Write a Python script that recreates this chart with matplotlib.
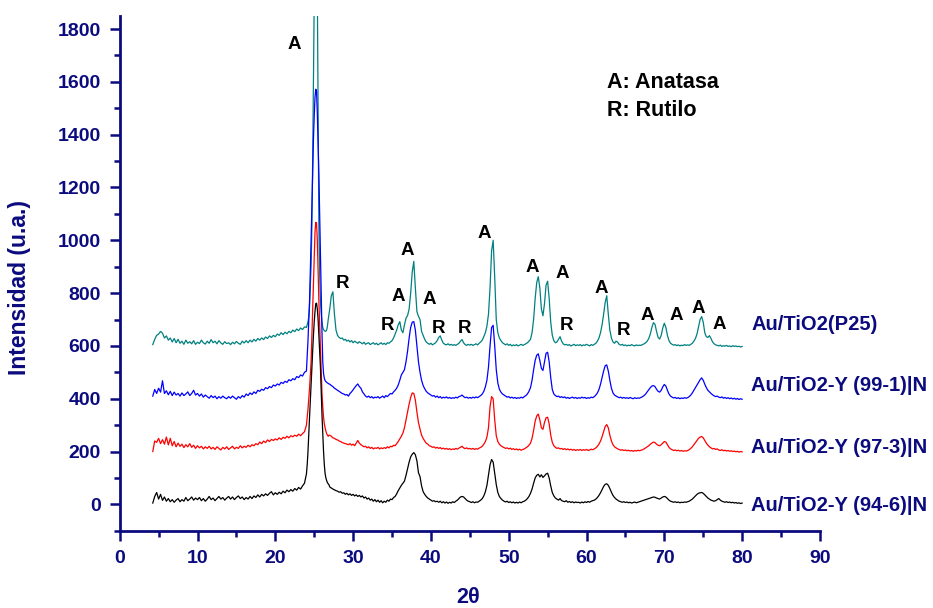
import numpy as np
import matplotlib
matplotlib.use("Agg")
import matplotlib.pyplot as plt
from matplotlib.ticker import MultipleLocator

plt.rcParams['font.family'] = ['Liberation Sans', 'DejaVu Sans']

# ---------------- data (2theta grid and intensities) ----------------
two_theta = np.concatenate([
    np.round(np.arange(4.25, 24.0 + 1e-9, 0.25), 2),   # 80 points
    np.round(np.arange(24.1, 26.9 + 1e-9, 0.1), 2),    # 29 points
    np.round(np.arange(27.0, 80.0 + 1e-9, 0.2), 2),    # 266 points
])

p25 = [
    605, 625, 640, 645, 655, 648, 630, 638, 622, 630,
    615, 628, 612, 625, 610, 618, 606, 622, 610, 616,
    608, 620, 606, 614, 609, 622, 612, 607, 618, 610,
    624, 612, 618, 608, 620, 611, 606, 616, 609, 612,
    605, 614, 608, 617, 610, 606, 618, 611, 620, 612,
    622, 615, 625, 618, 628, 622, 630, 624, 634, 628,
    638, 632, 640, 635, 645, 640, 650, 643, 652, 646,
    655, 650, 660, 654, 664, 658, 668, 662, 672, 670,
    # 24.1 - 26.9
    680, 692, 710, 750, 820, 900, 1050, 1300, 1600, 1900,
    2300, 2550, 2450, 1950, 1500, 1050, 870, 770, 720, 690,
    670, 662, 658, 655, 656, 660, 675, 700, 720,
    # 27.0 - 80.0
    740, 790, 805, 720, 660, 640, 632, 628, 630, 622,
    625, 618, 622, 615, 620, 612, 618, 614, 610, 616,
    612, 608, 614, 606, 610, 612, 605, 609, 612, 606,
    610, 604, 608, 612, 606, 610, 605, 612, 610, 615,
    620, 630, 645, 660, 680, 692, 660, 650, 680, 705,
    715, 740, 800, 880, 920, 820, 730, 712, 700, 655,
    640, 625, 615, 610, 606, 610, 604, 608, 612, 620,
    632, 638, 622, 610, 606, 604, 608, 603, 606, 602,
    605, 602, 606, 610, 618, 624, 612, 605, 602, 606,
    603, 606, 602, 605, 608, 604, 610, 615, 622, 635,
    650, 675, 720, 820, 960, 1000, 860, 700, 650, 630,
    620, 612, 608, 604, 608, 602, 606, 600, 604, 601,
    605, 600, 603, 606, 602, 605, 608, 612, 618, 625,
    650, 700, 780, 840, 862, 820, 740, 714, 760, 830,
    845, 780, 690, 640, 620, 612, 615, 625, 635, 618,
    608, 604, 606, 602, 605, 600, 603, 606, 601, 604,
    602, 605, 600, 604, 602, 606, 603, 600, 605, 602,
    606, 610, 618, 630, 650, 680, 720, 765, 790, 720,
    660, 630, 615, 610, 618, 614, 606, 603, 606, 601,
    604, 600, 603, 601, 605, 602, 600, 604, 601, 603,
    602, 605, 608, 612, 618, 628, 645, 670, 688, 682,
    655, 632, 626, 640, 668, 686, 670, 640, 620, 610,
    606, 603, 605, 601, 604, 600, 603, 601, 605, 602,
    604, 602, 606, 610, 618, 628, 645, 672, 700, 711,
    690, 650, 635, 632, 639, 628, 615, 608, 604, 602,
    600, 603, 598, 601, 599, 602, 598, 600, 597, 601,
    598, 600, 597, 599, 596, 598,
]

y99_1 = [
    410, 435, 420, 440, 425, 468, 420, 430, 415, 428,
    412, 425, 414, 420, 410, 422, 412, 418, 426, 412,
    420, 432, 414, 420, 410, 418, 406, 414, 408, 402,
    412, 404, 410, 400, 408, 402, 410, 404, 400, 408,
    402, 410, 404, 398, 408, 402, 412, 406, 418, 412,
    422, 416, 426, 420, 432, 428, 436, 432, 442, 438,
    446, 442, 452, 448, 456, 452, 462, 458, 466, 462,
    472, 468, 476, 472, 484, 480, 490, 486, 500, 505,
    # 24.1 - 26.9
    560, 620, 700, 770, 880, 1000, 1120, 1250, 1380, 1470,
    1540, 1572, 1565, 1480, 1370, 1250, 1100, 950, 800, 650,
    540, 495, 478, 469, 465, 462, 460, 458, 456,
    # 27.0 - 80.0
    455, 450, 446, 440, 436, 432, 428, 424, 420, 418,
    414, 416, 410, 420, 426, 434, 442, 450, 456, 446,
    440, 426, 418, 410, 406, 410, 404, 408, 402, 406,
    404, 408, 402, 406, 410, 404, 412, 408, 414, 420,
    418, 426, 432, 440, 452, 470, 490, 500, 510, 540,
    580, 630, 670, 690, 692, 660, 600, 540, 500, 470,
    450, 438, 428, 422, 418, 414, 410, 412, 406, 410,
    404, 408, 402, 406, 403, 407, 402, 405, 401, 404,
    402, 406, 403, 408, 410, 414, 408, 404, 406, 402,
    405, 402, 406, 403, 407, 404, 408, 412, 418, 428,
    445, 470, 520, 600, 670, 678, 600, 510, 460, 436,
    425, 418, 414, 410, 406, 408, 403, 406, 402, 405,
    401, 404, 402, 406, 403, 408, 412, 418, 428, 442,
    470, 510, 545, 565, 570, 545, 515, 507, 540, 572,
    576, 540, 480, 435, 418, 412, 408, 410, 405, 408,
    404, 407, 402, 405, 401, 404, 406, 402, 405, 401,
    404, 402, 406, 403, 405, 401, 404, 402, 406, 404,
    408, 414, 422, 435, 455, 480, 505, 525, 528, 505,
    470, 440, 422, 414, 410, 407, 404, 406, 402, 405,
    402, 404, 401, 405, 402, 400, 404, 401, 403, 402,
    405, 408, 412, 418, 426, 434, 442, 448, 450, 446,
    436, 428, 425, 432, 445, 454, 448, 432, 418, 410,
    406, 403, 405, 401, 404, 400, 403, 401, 404, 402,
    404, 408, 414, 422, 432, 442, 452, 462, 472, 479,
    470, 455, 442, 432, 426, 420, 415, 411, 408, 410,
    406, 404, 407, 402, 405, 401, 404, 400, 403, 399,
    402, 398, 401, 397, 400, 398,
]

y97_3 = [
    200, 240, 235, 250, 230, 245, 228, 255, 225, 250,
    222, 238, 218, 232, 220, 228, 215, 226, 218, 230,
    216, 224, 212, 222, 214, 220, 210, 218, 212, 220,
    210, 216, 208, 218, 212, 206, 216, 210, 218, 208,
    214, 220, 210, 216, 212, 222, 214, 220, 216, 224,
    218, 226, 222, 230, 226, 236, 230, 240, 234, 244,
    238, 246, 242, 248, 244, 252, 246, 254, 250, 258,
    252, 260, 256, 262, 258, 266, 260, 268, 275, 300,
    # 24.1 - 26.9
    330, 360, 400, 440, 490, 540, 640, 740, 850, 950,
    1030, 1068, 1065, 1000, 880, 770, 680, 580, 500, 420,
    370, 330, 305, 290, 278, 268, 262, 258, 262,
    # 27.0 - 80.0
    262, 258, 252, 250, 246, 244, 240, 238, 234, 232,
    230, 228, 226, 230, 224, 228, 222, 232, 242, 232,
    226, 222, 218, 220, 214, 218, 212, 216, 210, 214,
    212, 216, 210, 214, 211, 215, 212, 218, 214, 220,
    218, 224, 222, 230, 238, 248, 258, 270, 290, 320,
    350, 380, 405, 422, 420, 395, 350, 310, 285, 262,
    250, 240, 232, 228, 222, 220, 216, 218, 213, 216,
    212, 215, 210, 213, 209, 212, 208, 211, 207, 210,
    208, 212, 209, 213, 216, 220, 214, 211, 214, 210,
    212, 209, 212, 208, 211, 209, 213, 216, 220, 228,
    238, 255, 290, 370, 408, 400, 320, 260, 238, 228,
    222, 218, 215, 212, 214, 210, 213, 208, 211, 207,
    210, 206, 209, 205, 208, 210, 214, 218, 224, 232,
    250, 280, 315, 335, 342, 320, 290, 284, 310, 328,
    330, 305, 262, 235, 222, 216, 212, 214, 210, 212,
    208, 211, 207, 210, 206, 209, 205, 208, 204, 207,
    205, 208, 204, 207, 205, 208, 204, 206, 209, 207,
    210, 214, 220, 228, 240, 256, 275, 295, 302, 290,
    262, 240, 226, 218, 214, 210, 208, 205, 207, 204,
    206, 203, 205, 202, 204, 201, 204, 202, 205, 203,
    205, 207, 210, 214, 218, 222, 228, 232, 236, 234,
    228, 224, 222, 226, 232, 238, 236, 226, 216, 210,
    207, 204, 206, 203, 205, 202, 204, 201, 203, 202,
    204, 207, 212, 218, 226, 234, 242, 250, 255, 257,
    252, 242, 232, 224, 218, 214, 210, 212, 208, 210,
    206, 204, 207, 203, 205, 202, 204, 201, 203, 200,
    202, 199, 201, 198, 200, 199,
]

y94_6 = [
    5, 30, 45, 20, 38, 15, 28, 12, 22, 10,
    18, 8, 16, 22, 10, 18, 12, 26, 14, 20,
    28, 16, 24, 18, 26, 14, 22, 12, 20, 30,
    18, 24, 14, 22, 30, 20, 26, 16, 24, 30,
    20, 28, 18, 26, 32, 22, 28, 18, 26, 20,
    30, 22, 32, 26, 36, 28, 38, 32, 40, 34,
    42, 48, 36, 44, 38, 46, 40, 50, 44, 54,
    48, 56, 50, 60, 54, 64, 58, 70, 80, 115,
    # 24.1 - 26.9
    150, 200, 268, 330, 393, 455, 519, 580, 640, 690,
    730, 760, 762, 740, 700, 640, 580, 519, 430, 340,
    268, 200, 150, 117, 100, 90, 82, 78, 74,
    # 27.0 - 80.0
    66, 62, 58, 55, 52, 50, 46, 48, 42, 44,
    38, 42, 36, 40, 34, 38, 32, 36, 30, 34,
    28, 32, 24, 28, 20, 24, 16, 20, 12, 18,
    10, 16, 8, 14, 6, 12, 8, 16, 12, 20,
    18, 26, 30, 40, 52, 62, 72, 80, 88, 110,
    135, 160, 180, 190, 196, 188, 165, 120, 105, 70,
    48, 38, 30, 24, 20, 16, 12, 14, 10, 12,
    8, 12, 6, 10, 5, 9, 4, 8, 5, 10,
    7, 12, 16, 22, 28, 30, 28, 22, 16, 12,
    10, 7, 10, 6, 9, 8, 12, 16, 22, 32,
    48, 72, 110, 150, 170, 160, 118, 75, 45, 30,
    22, 16, 12, 9, 12, 7, 10, 6, 9, 5,
    8, 5, 9, 6, 10, 12, 16, 22, 30, 42,
    58, 80, 100, 110, 114, 104, 112, 102, 108, 115,
    118, 100, 70, 45, 32, 24, 20, 16, 22, 14,
    12, 10, 14, 8, 11, 7, 10, 6, 9, 7,
    8, 5, 9, 6, 10, 7, 11, 8, 12, 14,
    16, 20, 26, 34, 44, 56, 68, 76, 78, 72,
    60, 46, 34, 26, 20, 16, 12, 10, 8, 10,
    7, 9, 6, 8, 5, 7, 9, 6, 8, 10,
    12, 14, 16, 18, 20, 22, 24, 26, 28, 27,
    24, 22, 20, 24, 28, 30, 28, 22, 16, 12,
    10, 8, 10, 7, 9, 6, 8, 7, 9, 8,
    10, 12, 16, 20, 26, 32, 38, 42, 44, 45,
    42, 36, 30, 24, 20, 16, 14, 12, 14, 18,
    22, 16, 12, 10, 8, 10, 7, 9, 6, 8,
    5, 7, 4, 6, 3, 5,
]

series_names = ["Au/TiO2(P25)", "Au/TiO2-Y (99-1)|N", "Au/TiO2-Y (97-3)|N", "Au/TiO2-Y (94-6)|N"]
series_values = [p25, y99_1, y97_3, y94_6]
series_colors = ["#008080", "#0000FF", "#FF0000", "#000000"]
label_y = [680, 450, 215, -5]

# phase markers: (letter, 2theta, intensity)
phase_marks = [
    ("A", 22.4, 1740), ("R", 28.6, 835), ("A", 35.8, 786), ("A", 36.97, 962),
    ("A", 39.75, 774), ("R", 34.4, 677), ("R", 40.96, 667), ("R", 44.27, 667),
    ("A", 46.8, 1027), ("A", 53.0, 897), ("A", 56.9, 875), ("R", 57.45, 677),
    ("A", 61.9, 819), ("R", 64.8, 658), ("A", 67.8, 715), ("A", 71.6, 715),
    ("A", 74.35, 740), ("A", 77.1, 683),
]

navy = "#0B0B7F"

fig = plt.figure(figsize=(9.33, 6.08), dpi=100)
ax = fig.add_axes([0.1283, 0.127, 0.7505, 0.847])

for vals, col in zip(series_values, series_colors):
    ax.plot(two_theta, vals, color=col, lw=0.9)

ax.set_xlim(0, 90)
ax.set_ylim(-100, 1850)
ax.xaxis.set_major_locator(MultipleLocator(10))
ax.xaxis.set_minor_locator(MultipleLocator(5))
ax.yaxis.set_major_locator(MultipleLocator(200))
ax.yaxis.set_minor_locator(MultipleLocator(100))
ax.set_yticks(range(0, 1801, 200))

for s in ["top", "right"]:
    ax.spines[s].set_visible(False)
for s in ["left", "bottom"]:
    ax.spines[s].set_color(navy)
    ax.spines[s].set_linewidth(2.0)

ax.tick_params(which="major", direction="out", length=7, width=1.8, color=navy,
               labelcolor=navy, labelsize=14, pad=6.5)
ax.tick_params(which="minor", direction="out", length=4.3, width=1.8, color=navy)
for lab in ax.get_xticklabels() + ax.get_yticklabels():
    lab.set_fontweight("bold")

ax.set_ylabel("Intensidad (u.a.)", color=navy, fontsize=16.5, fontweight="bold")
ax.yaxis.set_label_coords(-0.127, 0.472)
ax.set_xlabel("2θ", color=navy, fontsize=15.5, fontweight="bold")
ax.xaxis.set_label_coords(0.497, -0.11)

for name, yv in zip(series_names, label_y):
    ax.text(81.2, yv, name, color=navy, fontsize=14.5, fontweight="bold",
            va="center", ha="left", clip_on=False)

for letter, xv, yv in phase_marks:
    ax.text(xv, yv, letter, color="black", fontsize=13.5, fontweight="bold",
            ha="center", va="center")

ax.text(62.6, 1597, "A: Anatasa", color="black", fontsize=15.5, fontweight="bold",
        ha="left", va="center")
ax.text(62.6, 1492, "R: Rutilo", color="black", fontsize=15.5, fontweight="bold",
        ha="left", va="center")

fig.savefig("out.png", dpi=100)
